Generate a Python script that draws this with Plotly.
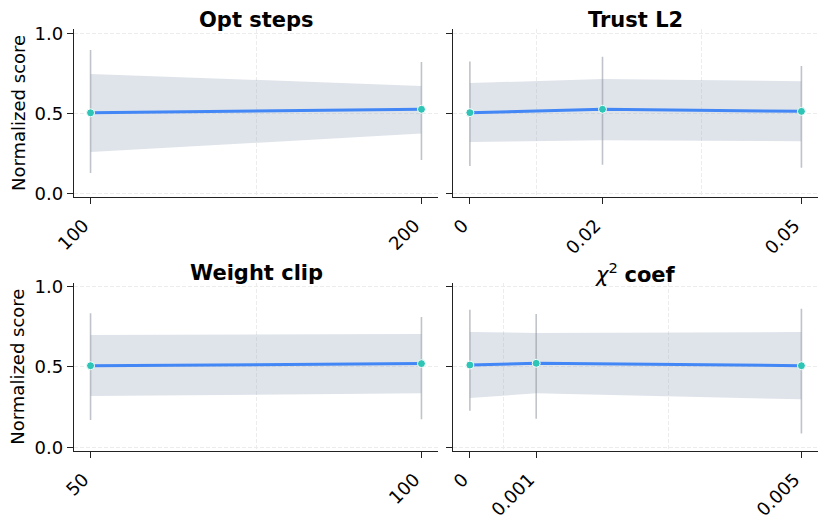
import plotly.graph_objects as go

# ---- data ----
titles = ["Opt steps", "Trust L2", "Weight clip", "<i>χ</i><sup>2</sup> <b>coef</b>"]

opt_x = [100, 200]
opt_labels = ["100", "200"]
opt_mean = [0.503, 0.525]
opt_band_hi = [0.746, 0.671]
opt_band_lo = [0.258, 0.373]
opt_err_hi = [0.896, 0.820]
opt_err_lo = [0.127, 0.208]

l2_x = [0, 0.02, 0.05]
l2_labels = ["0", "0.02", "0.05"]
l2_mean = [0.504, 0.525, 0.512]
l2_band_hi = [0.689, 0.714, 0.700]
l2_band_lo = [0.321, 0.331, 0.325]
l2_err_hi = [0.823, 0.854, 0.796]
l2_err_lo = [0.171, 0.179, 0.160]

clip_x = [50, 100]
clip_labels = ["50", "100"]
clip_mean = [0.508, 0.521]
clip_band_hi = [0.699, 0.705]
clip_band_lo = [0.319, 0.336]
clip_err_hi = [0.834, 0.811]
clip_err_lo = [0.170, 0.174]

chi_x = [0, 0.001, 0.005]
chi_labels = ["0", "0.001", "0.005"]
chi_mean = [0.512, 0.523, 0.508]
chi_band_hi = [0.718, 0.712, 0.718]
chi_band_lo = [0.307, 0.336, 0.299]
chi_err_hi = [0.857, 0.830, 0.863]
chi_err_lo = [0.228, 0.178, 0.085]

panels = [
    (opt_x, opt_labels, opt_mean, opt_band_hi, opt_band_lo, opt_err_hi, opt_err_lo),
    (l2_x, l2_labels, l2_mean, l2_band_hi, l2_band_lo, l2_err_hi, l2_err_lo),
    (clip_x, clip_labels, clip_mean, clip_band_hi, clip_band_lo, clip_err_hi, clip_err_lo),
    (chi_x, chi_labels, chi_mean, chi_band_hi, chi_band_lo, chi_err_hi, chi_err_lo),
]

# ---- style ----
W, H = 828, 522
OFF = 8  # page body margin
FONT = "DejaVu Sans"
LINE_C = "#4287f5"
MARK_C = "#2ec4b6"
BAND_C = "rgba(148,163,184,0.30)"
ERR_C = "rgba(140,146,156,0.55)"
GRID_C = "#ececec"
GRID_DASH = "4px,2px"
TICK_SIZE = 18
TITLE_SIZE = 21


def px_x(p):
    return (p - OFF) / W


def px_y(p):
    return 1 - (p - OFF) / H


x_domains = [[px_x(74), px_x(438)], [px_x(453.3), px_x(818)]]
y_domains = [[px_y(196.8), px_y(29.3)], [px_y(450.8), px_y(282.7)]]
y_range = [-0.022, 1.025]
title_centers = [20.5, 272.5]

fig = go.Figure()
layout = dict(
    width=W, height=H, margin=dict(l=0, r=0, t=0, b=0),
    paper_bgcolor="white", plot_bgcolor="white",
    showlegend=False, font=dict(family=FONT, size=TICK_SIZE, color="black"),
    annotations=[],
)

for i, (xs, labels, mean, bhi, blo, ehi, elo) in enumerate(panels):
    row, col = divmod(i, 2)
    n = i + 1
    xa = "x" if n == 1 else f"x{n}"
    ya = "y" if n == 1 else f"y{n}"
    # band
    fig.add_trace(go.Scatter(x=xs, y=blo, mode="lines", line=dict(width=0),
                             hoverinfo="skip", xaxis=xa, yaxis=ya))
    fig.add_trace(go.Scatter(x=xs, y=bhi, mode="lines", line=dict(width=0),
                             fill="tonexty", fillcolor=BAND_C, hoverinfo="skip",
                             xaxis=xa, yaxis=ya))
    # error bars (min-max)
    ex, ey = [], []
    for xv, lo, hi in zip(xs, elo, ehi):
        ex += [xv, xv, None]
        ey += [lo, hi, None]
    fig.add_trace(go.Scatter(x=ex, y=ey, mode="lines", line=dict(color=ERR_C, width=1.6),
                             hoverinfo="skip", xaxis=xa, yaxis=ya))
    # mean line
    fig.add_trace(go.Scatter(x=xs, y=mean, mode="lines+markers",
                             line=dict(color=LINE_C, width=3),
                             marker=dict(color=MARK_C, size=8, line=dict(color="white", width=1)),
                             xaxis=xa, yaxis=ya))

    span = xs[-1] - xs[0]
    mids = [(a + b) / 2 for a, b in zip(xs[:-1], xs[1:])]
    xkey = "xaxis" if n == 1 else f"xaxis{n}"
    ykey = "yaxis" if n == 1 else f"yaxis{n}"
    layout[xkey] = dict(
        domain=x_domains[col], anchor=ya,
        range=[xs[0] - 0.05 * span, xs[-1] + 0.05 * span],
        tickmode="array", tickvals=xs, ticktext=labels, tickangle=-45,
        ticklabelshift=-7, ticklabelstandoff=4,
        showgrid=False, zeroline=False,
        showline=True, linecolor="#222", linewidth=1.3,
        ticks="outside", ticklen=6, tickwidth=1.3, tickcolor="#222",
        tickfont=dict(family=FONT, size=TICK_SIZE, color="black"),
        minor=dict(tickmode="array", tickvals=mids, showgrid=True, gridcolor=GRID_C,
                   griddash=GRID_DASH, gridwidth=1, ticks=""),
        automargin=False,
    )
    layout[ykey] = dict(
        domain=y_domains[row], anchor=xa, range=y_range,
        tickmode="array", tickvals=[0, 0.5, 1.0],
        ticktext=["0.0", "0.5", "1.0"], showticklabels=(col == 0),
        showgrid=True, gridcolor=GRID_C, griddash=GRID_DASH, gridwidth=1,
        zeroline=False, showline=True, linecolor="#222", linewidth=1.3,
        ticks="outside", ticklen=6, tickwidth=1.3, tickcolor="#222",
        tickfont=dict(family=FONT, size=TICK_SIZE, color="black"),
        automargin=False,
    )
    # title
    xd = x_domains[col]
    ttext = titles[i] if "<b>" in titles[i] else f"<b>{titles[i]}</b>"
    layout["annotations"].append(dict(
        text=ttext, xref="paper", yref="paper",
        x=(xd[0] + xd[1]) / 2, y=px_y(title_centers[row]),
        xanchor="center", yanchor="middle", showarrow=False, borderpad=0,
        font=dict(family=FONT, size=TITLE_SIZE, color="black")))
    if col == 0:
        yd = y_domains[row]
        layout["annotations"].append(dict(
            text="Normalized score", xref="paper", yref="paper",
            x=px_x(18), y=(yd[0] + yd[1]) / 2, textangle=-90,
            xanchor="center", yanchor="middle", showarrow=False,
            font=dict(family=FONT, size=TICK_SIZE, color="black")))

fig.update_layout(**layout)
fig.write_html("out.html")
